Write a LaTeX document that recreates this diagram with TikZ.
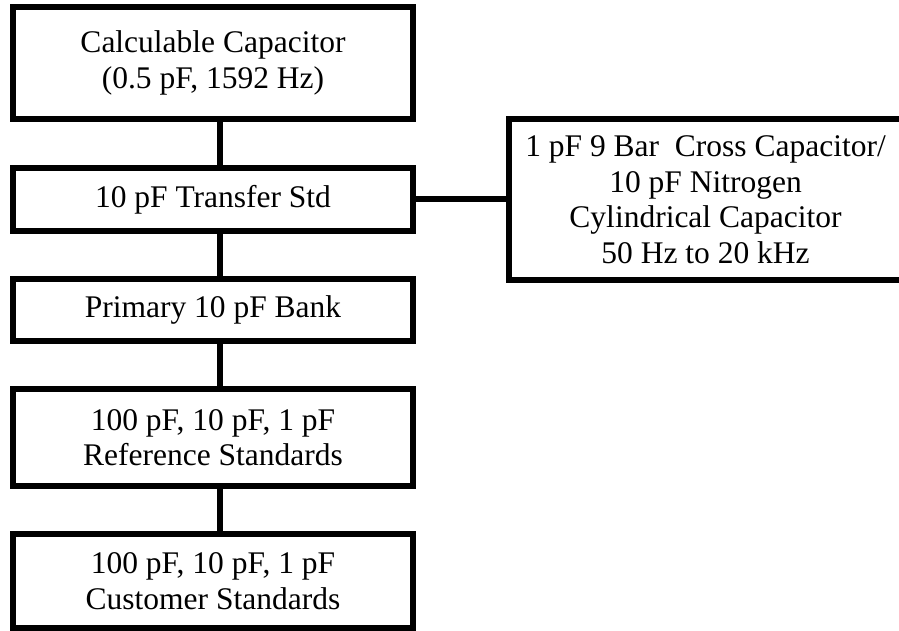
\documentclass[tikz,border=0pt]{standalone}
\usepackage{fontspec}
\setmainfont{Liberation Serif}
\begin{document}
\begin{tikzpicture}[x=1pt,y=1pt,
  stdbox/.style={draw=black, line width=6pt, inner sep=0pt, align=center,
    font=\fontsize{31.5}{35.5}\selectfont},
  link/.style={draw=black, line width=6pt}]
  \useasboundingbox (0,0) rectangle (899,-631);
  \clip (0,0) rectangle (899,-631);

  % chain of standards, top to bottom
  \node[stdbox, minimum width=400pt, minimum height=112pt] (calc) at (213,-63)
    {Calculable Capacitor\\(0.5 pF, 1592 Hz)};
  \node[stdbox, minimum width=400pt, minimum height=63pt] (xfer) at (213,-199.5)
    {10 pF Transfer Std};
  \node[stdbox, minimum width=400pt, minimum height=62pt] (bank) at (213,-310)
    {Primary 10 pF Bank};
  \node[stdbox, minimum width=400pt, minimum height=97pt] (ref) at (213,-437.5)
    {100 pF, 10 pF, 1 pF\\Reference Standards};
  \node[stdbox, minimum width=400pt, minimum height=94pt] (cust) at (213,-581)
    {100 pF, 10 pF, 1 pF\\Customer Standards};

  % side branch
  \node[stdbox, minimum width=393pt, minimum height=161pt] (cross) at (705.5,-199.5)
    {1 pF 9 Bar\ \ Cross Capacitor/\\10 pF Nitrogen\\Cylindrical Capacitor\\50 Hz to 20 kHz};

  % vertical spine
  \coordinate (spine) at (220,0);
  \draw[link] (calc.south -| spine) -- (xfer.north -| spine);
  \draw[link] (xfer.south -| spine) -- (bank.north -| spine);
  \draw[link] (bank.south -| spine) -- (ref.north -| spine);
  \draw[link] (ref.south -| spine) -- (cust.north -| spine);

  % horizontal branch
  \draw[link] (xfer.east) -- (cross.west);
\end{tikzpicture}
\end{document}
